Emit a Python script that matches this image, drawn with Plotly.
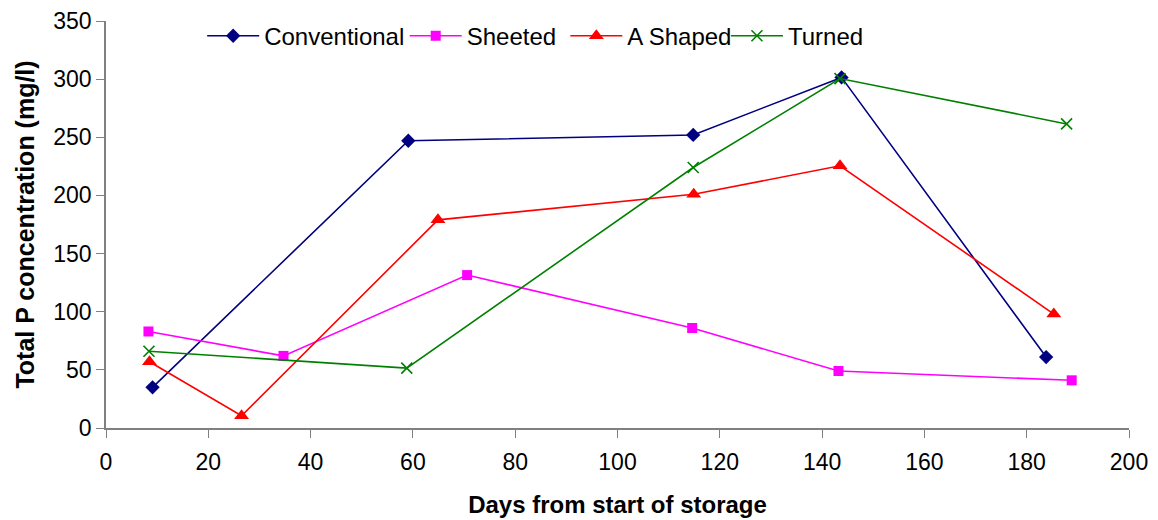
import plotly.graph_objects as go

conv_x = [9.1, 59.1, 114.8, 143.8, 183.8]
conv_y = [35, 247, 252, 301.5, 61]

sheet_x = [8.3, 34.7, 70.6, 114.6, 143.2, 188.8]
sheet_y = [83, 62, 131.5, 86, 49, 41]

ashape_x = [8.5, 26.5, 64.9, 114.9, 143.5, 185.3]
ashape_y = [57, 10.5, 179, 201, 225.5, 98]

turned_x = [8.4, 58.8, 114.8, 143.5, 187.8]
turned_y = [66, 51.5, 224, 300.5, 261.5]

x_ticks = [0, 20, 40, 60, 80, 100, 120, 140, 160, 180, 200]
y_ticks = [0, 50, 100, 150, 200, 250, 300, 350]

FONT = "Arial, Liberation Sans, sans-serif"

fig = go.Figure()
fig.add_trace(go.Scatter(x=conv_x, y=conv_y, name="Conventional", mode="lines+markers",
                         legend="legend",
                         line=dict(color="#000080", width=1.6),
                         marker=dict(symbol="diamond", size=11, color="#000080")))
fig.add_trace(go.Scatter(x=sheet_x, y=sheet_y, name="Sheeted", mode="lines+markers",
                         legend="legend2",
                         line=dict(color="#FF00FF", width=1.6),
                         marker=dict(symbol="square", size=10, color="#FF00FF")))
fig.add_trace(go.Scatter(x=ashape_x, y=ashape_y, name="A Shaped", mode="lines+markers",
                         legend="legend3",
                         line=dict(color="#FF0000", width=1.6),
                         marker=dict(symbol="triangle-up", size=13, color="#FF0000")))
fig.add_trace(go.Scatter(x=turned_x, y=turned_y, name="Turned", mode="lines+markers",
                         legend="legend4",
                         line=dict(color="#008000", width=1.6),
                         marker=dict(symbol="x-thin", size=11, color="#008000",
                                     line=dict(color="#008000", width=1.6))))

def leg(xpos):
    return dict(orientation="h", x=xpos, y=1.018, xanchor="left", yanchor="top",
                bgcolor="rgba(0,0,0,0)", font=dict(size=24), itemwidth=52)

fig.update_layout(
    width=1158, height=520,
    margin=dict(l=106, r=29, t=21, b=92),
    paper_bgcolor="white", plot_bgcolor="white",
    font=dict(family=FONT, size=23, color="black"),
    showlegend=True,
    legend=leg(0.094),
    legend2=leg(0.292),
    legend3=leg(0.449),
    legend4=leg(0.606),
    xaxis=dict(range=[0, 200], tickvals=x_ticks, ticks="outside", ticklen=8,
               tickcolor="#808080", showline=True, linecolor="#808080", linewidth=1.5,
               showgrid=False, zeroline=False, tickfont=dict(size=23), ticklabelstandoff=5,
               automargin=False,
               title=dict(text="<b>Days from start of storage</b>", font=dict(size=24), standoff=22)),
    yaxis=dict(range=[0, 350], tickvals=y_ticks, ticks="outside", ticklen=8,
               tickcolor="#808080", showline=True, linecolor="#808080", linewidth=1.5,
               showgrid=False, zeroline=False, tickfont=dict(size=23),
               automargin=False,
               title=dict(text="<b>Total P concentration (mg/l)</b>", font=dict(size=25), standoff=12)),
)

fig.write_html("out.html")
